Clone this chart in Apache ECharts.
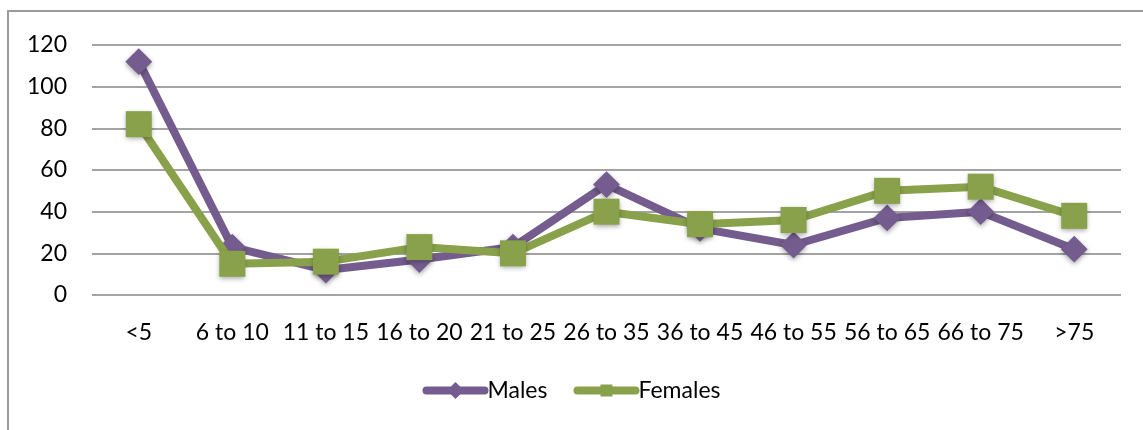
<!DOCTYPE html>
<html>
<head>
<meta charset="utf-8">
<script src="https://cdn.jsdelivr.net/npm/echarts@6/dist/echarts.min.js"></script>
<style>
  html, body { margin: 0; padding: 0; background: #fff; }
  #chart { width: 1143px; height: 430px; }
</style>
</head>
<body>
<div id="chart"></div>
<script>
// Age groups along the horizontal axis
const ageGroups = ['<5', '6 to 10', '11 to 15', '16 to 20', '21 to 25', '26 to 35',
  '36 to 45', '46 to 55', '56 to 65', '66 to 75', '>75'];
// Counts per age group
const males = [112, 23, 12, 17, 23, 53, 32, 24, 37, 40, 22];
const females = [82, 15, 16, 23, 20, 40, 34, 36, 50, 52, 38];
// Value axis range and step
const yMin = 0;
const yMax = 120;
const yStep = 20;

const purple = '#745C8E';
const green = '#89A14A';
const fontFamily = 'Lato, "Open Sans", sans-serif';

const chart = echarts.init(document.getElementById('chart'), null, { renderer: 'canvas' });

const markerShadow = {
  shadowColor: 'rgba(0,0,0,0.35)',
  shadowBlur: 5,
  shadowOffsetY: 2
};

const legendItem = (name) => ({
  name: name,
  lineStyle: { width: 8, cap: 'round' },
  itemStyle: { shadowBlur: 0, shadowOffsetY: 0 }
});

chart.setOption({
  animation: false,
  backgroundColor: '#fff',
  textStyle: { fontFamily: fontFamily, color: '#000' },
  graphic: [
    // chart-area frame (top and left edges)
    { type: 'line', shape: { x1: 8, y1: 11, x2: 1143, y2: 11 },
      style: { stroke: '#9a9a9a', lineWidth: 2 } },
    { type: 'line', shape: { x1: 8, y1: 10, x2: 8, y2: 430 },
      style: { stroke: '#9a9a9a', lineWidth: 2 } }
  ],
  grid: { left: 92, right: 22, top: 45, bottom: 135 },
  legend: {
    bottom: 23,
    left: 'center',
    itemWidth: 58,
    itemHeight: 15,
    itemGap: 26,
    textStyle: { fontSize: 23, fontFamily: fontFamily, color: '#000', padding: [0, 0, 0, -2] },
    data: [legendItem('Males'), legendItem('Females')]
  },
  xAxis: {
    type: 'category',
    data: ageGroups,
    boundaryGap: true,
    axisLine: { show: false },
    axisTick: { show: false },
    axisLabel: { fontSize: 23, color: '#000', margin: 26, interval: 0 }
  },
  yAxis: {
    type: 'value',
    min: yMin,
    max: yMax,
    interval: yStep,
    axisLine: { show: false },
    axisTick: { show: false },
    axisLabel: { fontSize: 23, color: '#000', margin: 25 },
    splitLine: { lineStyle: { color: '#a3a3a3', width: 2 } }
  },
  series: [
    {
      name: 'Males',
      type: 'line',
      data: males,
      symbol: 'rect',
      symbolRotate: 45,
      symbolSize: 19,
      lineStyle: { color: purple, width: 8 },
      itemStyle: Object.assign({ color: purple }, markerShadow),
      z: 2
    },
    {
      name: 'Females',
      type: 'line',
      data: females,
      symbol: 'rect',
      symbolSize: 26,
      lineStyle: { color: green, width: 8 },
      itemStyle: Object.assign({ color: green }, markerShadow),
      z: 3
    }
  ]
});
</script>
</body>
</html>
